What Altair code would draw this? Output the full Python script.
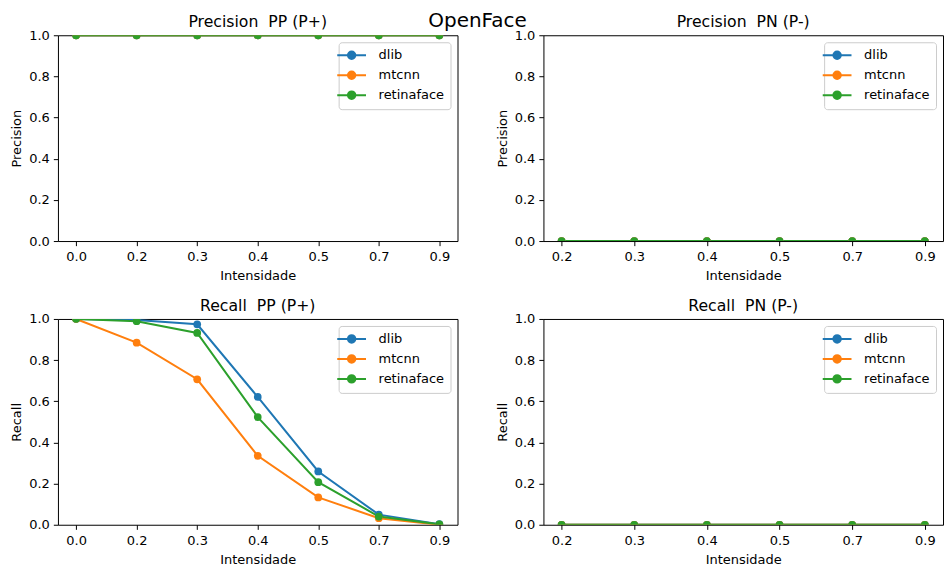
import altair as alt
import pandas as pd

suptitle = "OpenFace"
panel_titles = ["Precision \u00a0PP (P+)", "Precision \u00a0PN (P-)",
                "Recall \u00a0PP (P+)", "Recall \u00a0PN (P-)"]
series = ["dlib", "mtcnn", "retinaface"]
colors = ["#1f77b4", "#ff7f0e", "#2ca02c"]

x_pp = ["0.0", "0.2", "0.3", "0.4", "0.5", "0.7", "0.9"]
x_pn = ["0.2", "0.3", "0.4", "0.5", "0.7", "0.9"]
y_ticks = [0.0, 0.2, 0.4, 0.6, 0.8, 1.0]

prec_pp_dlib = [1.0, 1.0, 1.0, 1.0, 1.0, 1.0, 1.0]
prec_pp_mtcnn = [1.0, 1.0, 1.0, 1.0, 1.0, 1.0, 1.0]
prec_pp_retina = [1.0, 1.0, 1.0, 1.0, 1.0, 1.0, 1.0]

prec_pn_dlib = [0.0, 0.0, 0.0, 0.0, 0.0, 0.0]
prec_pn_mtcnn = [0.0, 0.0, 0.0, 0.0, 0.0, 0.0]
prec_pn_retina = [0.0, 0.0, 0.0, 0.0, 0.0, 0.0]

rec_pp_dlib = [1.0, 0.995, 0.974, 0.621, 0.259, 0.049, 0.003]
rec_pp_mtcnn = [1.0, 0.885, 0.707, 0.335, 0.133, 0.032, 0.0]
rec_pp_retina = [1.0, 0.989, 0.932, 0.523, 0.207, 0.040, 0.002]

rec_pn_dlib = [0.0, 0.0, 0.0, 0.0, 0.0, 0.0]
rec_pn_mtcnn = [0.0, 0.0, 0.0, 0.0, 0.0, 0.0]
rec_pn_retina = [0.0, 0.0, 0.0, 0.0, 0.0, 0.0]

FONT = "DejaVu Sans"
W, H = 400, 206

symbol_path = ("M-2.4,0L2.4,0M-0.62,0A0.62,0.62,0,1,1,0.62,0"
               "A0.62,0.62,0,1,1,-0.62,0Z")


def make_legend():
    return alt.Legend(
        title=None, orient="top-right", offset=7, padding=6,
        fillColor="white", strokeColor="#cccccc", cornerRadius=3,
        symbolType=symbol_path, symbolSize=144, symbolStrokeWidth=2,
        symbolOpacity=1, labelFontSize=13, labelFont=FONT,
        labelColor="black", labelOffset=20, rowPadding=4,
    )


def text_layer(txt, size, dx):
    return alt.Chart(pd.DataFrame({"t": [txt]})).mark_text(
        fontSize=size, font=FONT, baseline="alphabetic", align="center",
        color="black").encode(text="t:N", x=alt.value(dx), y=alt.value(-8))


def panel(title, xs, values, ytitle, pad, with_suptitle=False):
    rows = []
    for s, vals in zip(series, values):
        for x, v in zip(xs, vals):
            rows.append({"x": x, "v": v, "s": s})
    df = pd.DataFrame(rows)
    base = alt.Chart(df).encode(
        x=alt.X("x:N", sort=xs, scale=alt.Scale(type="point", padding=pad),
                axis=alt.Axis(title="Intensidade", labelAngle=0, labelPadding=5,
                              titlePadding=6)),
        y=alt.Y("v:Q", scale=alt.Scale(domain=[0, 1], nice=False),
                axis=alt.Axis(title=ytitle, values=y_ticks, format=".1f")),
    )
    cscale = alt.Scale(domain=series, range=colors)
    line = base.mark_line(strokeWidth=2, clip=True).encode(
        stroke=alt.Stroke("s:N", scale=cscale, legend=make_legend()))
    pts = base.mark_circle(size=60, opacity=1, clip=True).encode(
        fill=alt.Fill("s:N", scale=cscale, legend=make_legend()))
    layers = [line, pts, text_layer(title, 15.7, W / 2)]
    if with_suptitle:
        layers.append(text_layer(suptitle, 20, W + 20))
    return alt.layer(*layers).properties(width=W, height=H)


p1 = panel(panel_titles[0], x_pp, [prec_pp_dlib, prec_pp_mtcnn, prec_pp_retina],
           "Precision", 0.3, with_suptitle=True)
p2 = panel(panel_titles[1], x_pn, [prec_pn_dlib, prec_pn_mtcnn, prec_pn_retina],
           "Precision", 0.25)
p3 = panel(panel_titles[2], x_pp, [rec_pp_dlib, rec_pp_mtcnn, rec_pp_retina],
           "Recall", 0.3)
p4 = panel(panel_titles[3], x_pn, [rec_pn_dlib, rec_pn_mtcnn, rec_pn_retina],
           "Recall", 0.25)

chart = alt.concat(p1, p2, p3, p4, columns=2, spacing={"row": 78, "column": 86},
                   bounds="flush").resolve_scale(
    stroke="independent", fill="independent"
).resolve_legend(
    stroke="independent", fill="independent"
).properties(
    padding={"left": 10, "top": 10, "right": 0, "bottom": 0}
).configure(
    background="white"
).configure_view(
    stroke="black", strokeWidth=1
).configure_axis(
    domain=False, grid=False, tickColor="black", tickSize=4.6, tickWidth=1,
    labelPadding=4, labelFontSize=13, labelFont=FONT, labelColor="black",
    titleFontSize=13, titleFont=FONT, titleFontWeight="normal", titleColor="black",
    titlePadding=5,
)

chart.save("out.html", embed_options={"renderer": "svg", "actions": False})
